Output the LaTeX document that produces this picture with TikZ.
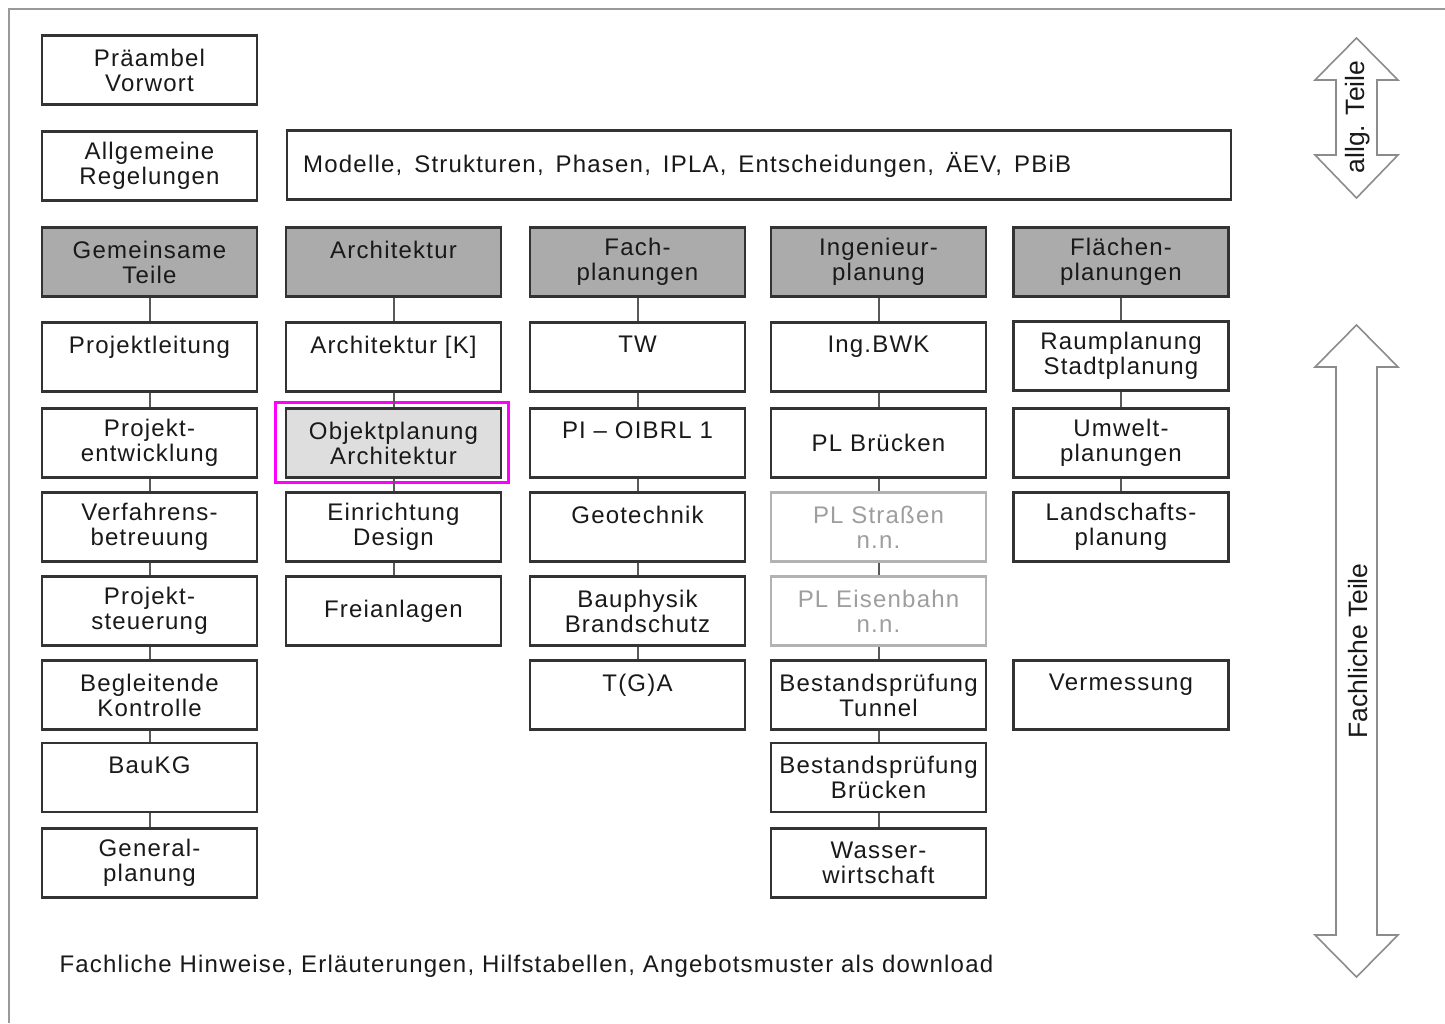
\documentclass[tikz,border=0pt]{standalone}
\usepackage{fontspec}
\setmainfont{Liberation Sans}
\newfontfamily\spacedfont[LetterSpace=5]{Liberation Sans}
\definecolor{hilite}{RGB}{255,0,255}
\begin{document}
\begin{tikzpicture}[x=1pt,y=-1pt,
  every node/.style={font=\spacedfont\fontsize{24}{25}\selectfont},
  box/.style={draw=black!80, line width=2.4pt, fill=white, minimum width=215pt, minimum height=69pt, inner sep=0pt, align=center, text=black!90},
  headbox/.style={box, fill=black!33},
  selbox/.style={box, fill=black!13},
  faintbox/.style={box, draw=black!30, text=black!38},
  conn/.style={draw=black!65, line width=2pt},
  bigarrow/.style={draw=black!45, line width=1.6pt, fill=white, line join=miter},
  frameline/.style={draw=black!40, line width=2pt},
  rottext/.style={rotate=90, font=\fontsize{26.5}{28}\selectfont, text=black!90}
]
\useasboundingbox (0,0) rectangle (1445,1023);
% outer frame
\draw[frameline] (9,1023) -- (9,9) -- (1445,9);

% top rows
\node[box] (pre) at (149.5,70) {Präambel\\Vorwort};
\node[box] (allg) at (149.5,166) {Allgemeine\\Regelungen};
\node[box, minimum width=944pt, anchor=west, text width=920pt, align=left] (mod) at (286,165) {\spaceskip=12pt plus 2pt\hspace*{4pt}Modelle, Strukturen, Phasen, IPLA, Entscheidungen, ÄEV, PBiB};

% column 1
\node[headbox] (h1) at (149.5,262) {Gemeinsame\\Teile};
\node[box] (a1) at (149.5,357) {Projektleitung\\\mbox{}};
\node[box] (a2) at (149.5,443) {Projekt-\\entwicklung};
\node[box] (a3) at (149.5,527) {Verfahrens-\\betreuung};
\node[box] (a4) at (149.5,611) {Projekt-\\steuerung};
\node[box] (a5) at (149.5,695) {Begleitende\\Kontrolle};
\node[box] (a6) at (149.5,777.5) {BauKG\\\mbox{}};
\node[box] (a7) at (149.5,863) {General-\\planung};

% column 2
\node[headbox] (h2) at (393.5,262) {Architektur\\\mbox{}};
\node[box] (b1) at (393.5,357) {Architektur [K]\\\mbox{}};
\node[selbox] (b2) at (393.5,443) {Objektplanung\\Architektur};
\node[box] (b3) at (393.5,527) {Einrichtung\\Design};
\node[box] (b4) at (393.5,611) {Freianlagen};
\draw[draw=hilite, line width=3pt] (275,402) rectangle (508,482);

% column 3
\node[headbox] (h3) at (637.5,262) {Fach-\\planungen};
\node[box] (c1) at (637.5,357) {TW\\\mbox{}};
\node[box] (c2) at (637.5,443) {PI – OIBRL 1\\\mbox{}};
\node[box] (c3) at (637.5,527) {Geotechnik\\\mbox{}};
\node[box] (c4) at (637.5,611) {Bauphysik\\Brandschutz};
\node[box] (c5) at (637.5,695) {T(G)A\\\mbox{}};

% column 4
\node[headbox] (h4) at (878.5,262) {Ingenieur-\\planung};
\node[box] (d1) at (878.5,357) {Ing.BWK\\\mbox{}};
\node[box] (d2) at (878.5,443) {PL Brücken};
\node[faintbox] (d3) at (878.5,527) {PL Straßen\\n.n.};
\node[faintbox] (d4) at (878.5,611) {PL Eisenbahn\\n.n.};
\node[box] (d5) at (878.5,695) {Bestandsprüfung\\Tunnel};
\node[box] (d6) at (878.5,777.5) {Bestandsprüfung\\Brücken};
\node[box] (d7) at (878.5,863) {Wasser-\\wirtschaft};

% column 5
\node[headbox] (h5) at (1121,262) {Flächen-\\planungen};
\node[box] (e1) at (1121,356) {Raumplanung\\Stadtplanung};
\node[box] (e2) at (1121,443) {Umwelt-\\planungen};
\node[box] (e3) at (1121,527) {Landschafts-\\planung};
\node[box] (e5) at (1121,695) {Vermessung\\\mbox{}};

% connectors
\foreach \u/\v in {h1/a1,a1/a2,a2/a3,a3/a4,a4/a5,a5/a6,a6/a7,
                   h2/b1,b1/b2,b2/b3,b3/b4,
                   h3/c1,c1/c2,c2/c3,c3/c4,c4/c5,
                   h4/d1,d1/d2,d2/d3,d3/d4,d4/d5,d5/d6,d6/d7,
                   h5/e1,e1/e2,e2/e3}
  \draw[conn] (\u.south) -- (\v.north);

% bottom text
\node[anchor=west, text=black!90] (hint) at (56,966) {Fachliche Hinweise, Erläuterungen, Hilfstabellen, Angebotsmuster als download};

% arrows
\draw[bigarrow] (1356.5,38) -- (1398,80) -- (1377,80) -- (1377,155) -- (1398,155) -- (1356.5,198) -- (1315,155) -- (1336,155) -- (1336,80) -- (1315,80) -- cycle;
\node[rottext] (allgt) at (1358,117) {allg. Teile};
\draw[bigarrow] (1356.5,325) -- (1398,367) -- (1377,367) -- (1377,935) -- (1398,935) -- (1356.5,977) -- (1315,935) -- (1336,935) -- (1336,367) -- (1315,367) -- cycle;
\node[rottext] (facht) at (1358,651) {Fachliche Teile};
\end{tikzpicture}
\end{document}
